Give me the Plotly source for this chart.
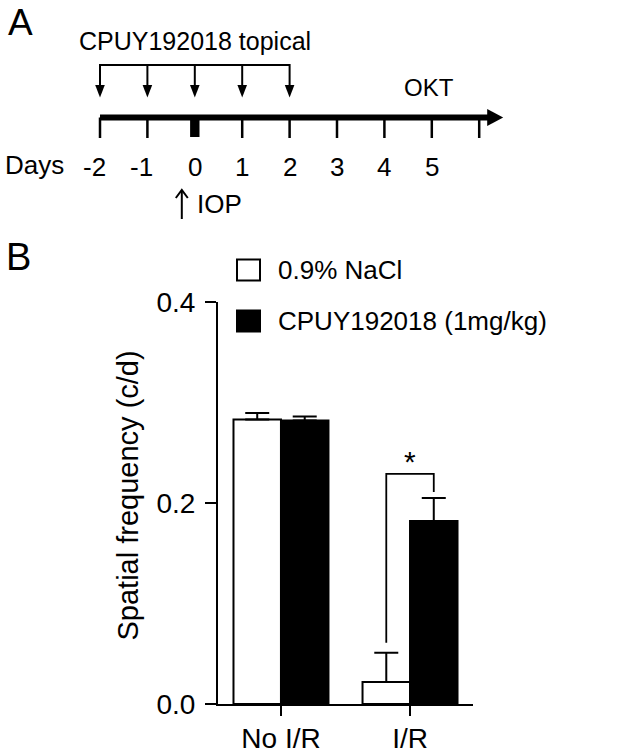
import plotly.graph_objects as go

# ---------------- Panel B data ----------------
groups = ["No I/R", "I/R"]
group_pos = [0, 1]
series_names = ["0.9% NaCl", "CPUY192018 (1mg/kg)"]
saline_mean = [0.283, 0.022]
saline_sem = [0.0066, 0.029]
cpuy_mean = [0.282, 0.182]
cpuy_sem = [0.004, 0.023]
y_tick_vals = [0.0, 0.2, 0.4]
y_tick_text = ["0.0", "0.2", "0.4"]
y_title = "Spatial frequency (c/d)"
sig_label = "*"

# ---------------- Panel A data ----------------
timeline_ticks = [-2, -1, 1, 2, 3, 4, 5, 6]
day_labels = [-2, -1, 0, 1, 2, 3, 4, 5]
dose_days = [-2, -1, 0, 1, 2]
iop_day = 0
treatment_label = "CPUY192018 topical"
endpoint_label = "OKT"
iop_label = "IOP"

# ---------------- layout constants ----------------
W, H = 618, 754
FONT = "Liberation Sans, Arial, sans-serif"
BARGAP = 0.264


def px(x):
    return x / W


def py(y):
    return 1 - y / H


fig = go.Figure()

# bars
for mean, sem, name, color in [
    (saline_mean, saline_sem, series_names[0], "white"),
    (cpuy_mean, cpuy_sem, series_names[1], "black"),
]:
    fig.add_trace(go.Bar(
        x=group_pos, y=mean, name=name,
        marker=dict(color=color, line=dict(color="black", width=2)),
        error_y=dict(type="data", symmetric=False, array=sem,
                     arrayminus=[0] * len(sem), color="black",
                     thickness=2, width=12),
        showlegend=False, xaxis="x", yaxis="y",
    ))

# significance bracket between the two I/R bars
half = (1 - BARGAP) / 4
lx, rx = group_pos[1] - half, group_pos[1] + half
top_y = max(cpuy_mean[1] + cpuy_sem[1], saline_mean[1] + saline_sem[1]) + 0.024
fig.add_trace(go.Scatter(
    x=[lx, lx, rx, rx],
    y=[saline_mean[1] + saline_sem[1] + 0.010, top_y, top_y,
       cpuy_mean[1] + cpuy_sem[1] + 0.006],
    mode="lines", line=dict(color="black", width=1.8),
    showlegend=False, hoverinfo="skip", xaxis="x", yaxis="y",
))

annotations = []
shapes = []

annotations.append(dict(
    x=group_pos[1], y=top_y + 0.012, xref="x", yref="y", text=sig_label,
    showarrow=False, font=dict(family=FONT, size=30, color="black"),
    xanchor="center", yanchor="middle",
))

# y-axis title
annotations.append(dict(
    x=px(127), y=py(495.5), xref="paper", yref="paper", text=y_title,
    textangle=-90, showarrow=False, font=dict(family=FONT, size=29, color="black"),
    xanchor="center", yanchor="middle",
))

# legend (manual, large swatches)
for i, (name, color) in enumerate(zip(series_names, ["white", "black"])):
    yc = [270, 321][i]
    shapes.append(dict(type="rect", xref="paper", yref="paper",
                       x0=px(237), x1=px(260), y0=py(yc - 10.5), y1=py(yc + 10.5),
                       fillcolor=color, line=dict(color="black", width=2)))
    annotations.append(dict(
        x=px(276), y=py(yc), xref="paper", yref="paper", text=name,
        showarrow=False, font=dict(family=FONT, size=26, color="black"),
        xanchor="left", yanchor="middle",
    ))

# panel letters
annotations.append(dict(x=px(6), y=1.0, xref="paper", yref="paper", text="A",
                        showarrow=False, font=dict(family=FONT, size=37, color="black"),
                        xanchor="left", yanchor="top"))
annotations.append(dict(x=px(4), y=py(257), xref="paper", yref="paper", text="B",
                        showarrow=False, font=dict(family=FONT, size=38, color="black"),
                        xanchor="left", yanchor="middle"))

# ---------------- Panel A (timeline) on x2/y2 ----------------
DAY_PX = 47.4
X0_PX = 100.0
x2_range = [-2 - X0_PX / DAY_PX, -2 + (W - X0_PX) / DAY_PX]
LINE_Y = 117.5


def dpx(p):  # pixel width -> day units
    return p / DAY_PX


end_day = day_labels[-1] + 1 + dpx(24)
shapes.append(dict(type="line", xref="x2", yref="y2", x0=timeline_ticks[0], x1=end_day - dpx(10),
                   y0=LINE_Y, y1=LINE_Y, line=dict(color="black", width=6)))
shapes.append(dict(type="path", xref="x2", yref="y2",
                   path=f"M {end_day - dpx(16)},{LINE_Y - 8.5} L {end_day},{LINE_Y} "
                        f"L {end_day - dpx(16)},{LINE_Y + 8.5} Z",
                   fillcolor="black", line=dict(color="black", width=0)))
for d in timeline_ticks:
    shapes.append(dict(type="line", xref="x2", yref="y2", x0=d, x1=d, y0=LINE_Y, y1=138,
                       line=dict(color="black", width=2.5)))
shapes.append(dict(type="rect", xref="x2", yref="y2", x0=iop_day - dpx(4.7), x1=iop_day + dpx(4.7),
                   y0=LINE_Y, y1=137, fillcolor="black", line=dict(color="black", width=0)))

for d in day_labels:
    annotations.append(dict(
        x=d, y=167, xref="x2", yref="y2", text=str(d), showarrow=False,
        xshift=-6 if d < 0 else 0,
        font=dict(family=FONT, size=26, color="black"), xanchor="center", yanchor="middle"))
annotations.append(dict(x=px(3), y=165, xref="paper", yref="y2", text="Days", showarrow=False,
                        font=dict(family=FONT, size=26, color="black"),
                        xanchor="left", yanchor="middle"))

# dosing bracket with down arrows
shapes.append(dict(type="line", xref="x2", yref="y2", x0=dose_days[0], x1=dose_days[-1],
                   y0=65, y1=65, line=dict(color="black", width=2)))
for d in dose_days:
    shapes.append(dict(type="line", xref="x2", yref="y2", x0=d, x1=d, y0=64, y1=88,
                       line=dict(color="black", width=2)))
    shapes.append(dict(type="path", xref="x2", yref="y2",
                       path=f"M {d - dpx(4.8)},85 L {d + dpx(4.8)},85 L {d},97.5 Z",
                       fillcolor="black", line=dict(color="black", width=0)))
annotations.append(dict(x=(dose_days[0] + dose_days[-1]) / 2, y=41, xref="x2", yref="y2",
                        text=treatment_label, showarrow=False,
                        font=dict(family=FONT, size=25, color="black"),
                        xanchor="center", yanchor="middle"))
annotations.append(dict(x=x2_range[0] + dpx(429), y=87, xref="x2", yref="y2",
                        text=endpoint_label, showarrow=False,
                        font=dict(family=FONT, size=24, color="black"),
                        xanchor="center", yanchor="middle"))

# IOP up arrow
ix = iop_day - dpx(13)
shapes.append(dict(type="line", xref="x2", yref="y2", x0=ix, x1=ix, y0=219, y1=191,
                   line=dict(color="black", width=2)))
shapes.append(dict(type="path", xref="x2", yref="y2",
                   path=f"M {ix - dpx(6)},198 L {ix},190 L {ix + dpx(6)},198",
                   line=dict(color="black", width=2)))
annotations.append(dict(x=ix + dpx(13), y=204, xref="x2", yref="y2", text=iop_label,
                        showarrow=False, font=dict(family=FONT, size=26, color="black"),
                        xanchor="left", yanchor="middle"))

fig.update_layout(
    width=W, height=H, autosize=False,
    margin=dict(l=0, r=0, t=0, b=0, pad=0),
    paper_bgcolor="white", plot_bgcolor="rgba(0,0,0,0)",
    barmode="group", bargap=BARGAP, bargroupgap=0,
    font=dict(family=FONT, color="black"),
    showlegend=False,
    xaxis=dict(domain=[px(218), px(473)], range=[-0.488, 1.488], anchor="y",
               tickvals=group_pos, ticktext=groups, ticks="outside", ticklen=10,
               tickwidth=2, tickcolor="black", showline=True, linewidth=2,
               linecolor="black", showgrid=False, zeroline=False, automargin=False,
               ticklabelstandoff=-2,
               tickfont=dict(family=FONT, size=28, color="black"), fixedrange=True),
    yaxis=dict(domain=[py(704), py(302)], range=[0, 0.4], anchor="x",
               tickvals=y_tick_vals, ticktext=y_tick_text, ticks="outside",
               ticklen=11, tickwidth=2, tickcolor="black", showline=True,
               linewidth=2, linecolor="black", showgrid=False, zeroline=False,
               automargin=False,
               tickfont=dict(family=FONT, size=28, color="black"),
               ticklabelstandoff=4, fixedrange=True),
    xaxis2=dict(domain=[0, 1], range=x2_range, anchor="y2", visible=False,
                automargin=False, fixedrange=True),
    yaxis2=dict(domain=[0, 1], range=[H, 0], anchor="x2", visible=False,
                automargin=False, fixedrange=True),
    shapes=shapes, annotations=annotations,
)

fig.write_html(
    "out.html",
    config={"displayModeBar": False},
    post_script="document.body.style.margin='0';document.body.style.overflow='hidden';",
)
